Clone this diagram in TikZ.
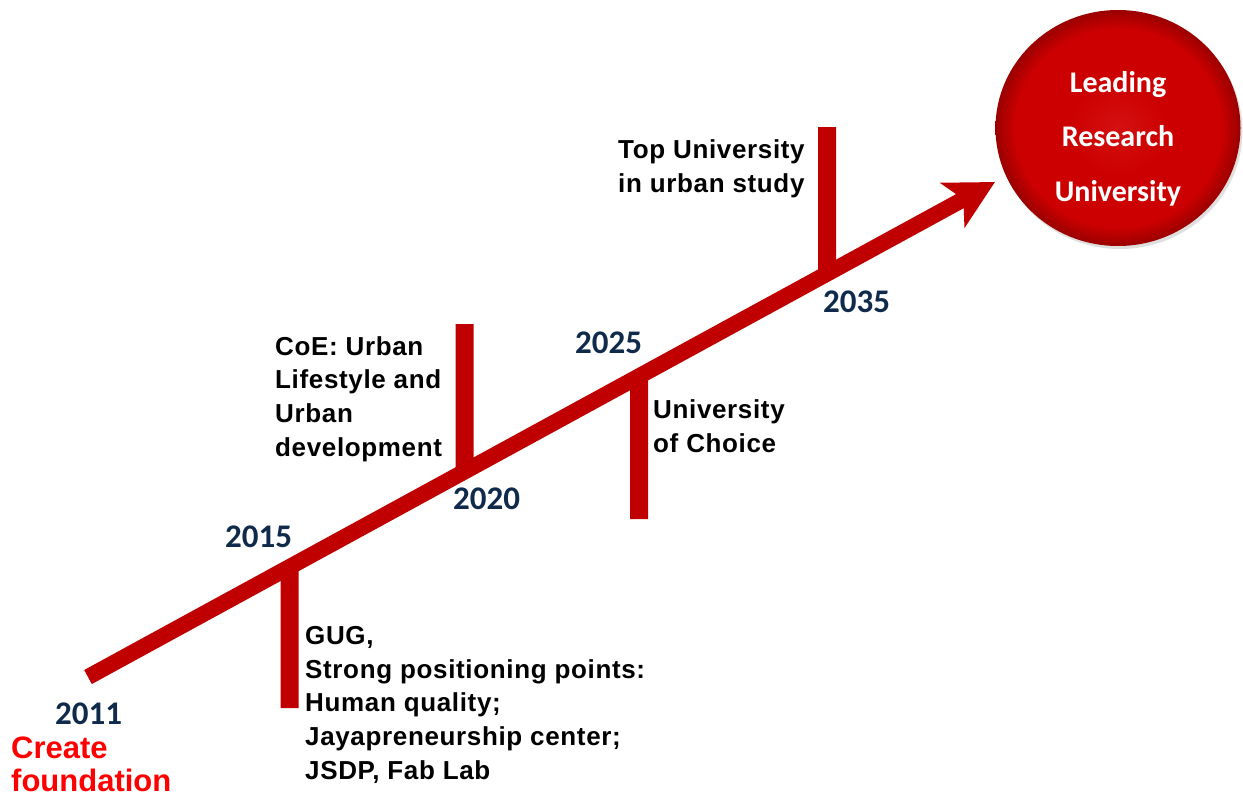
\documentclass[tikz,border=0pt]{standalone}
\usepackage{fontspec}
\setmainfont{Liberation Sans}
\newfontfamily\notefont[LetterSpace=2.5]{Liberation Sans}
\newfontfamily\calfont{Carlito}
\usetikzlibrary{arrows.meta,calc,shapes.geometric,shadows}
\definecolor{linered}{HTML}{C00000}
\definecolor{yearblue}{HTML}{0F2A4A}
\definecolor{ballred}{HTML}{CC0000}
\definecolor{ballrim}{HTML}{9A0000}
\definecolor{ballhi}{HTML}{D41010}
\definecolor{startred}{HTML}{FF0000}
\pgfdeclareradialshading{ballshade}{\pgfpoint{0bp}{0bp}}{color(0bp)=(ballhi); color(10bp)=(ballred); color(21bp)=(ballred); color(25bp)=(ballrim); color(50bp)=(ballrim)}
\begin{document}
\begin{tikzpicture}[x=1pt,y=-1pt,
  mainline/.style={line width=16pt, draw=linered, -{Stealth[length=48pt,width=50pt,inset=12pt]}},
  bar/.style={line width=18pt, draw=linered},
  year/.style={font=\calfont\bfseries\fontsize{33}{36}\selectfont, text=yearblue, anchor=base west, inner sep=0pt},
  note/.style={font=\notefont\bfseries\fontsize{26}{33.6}\selectfont, anchor=base west, align=left, inner sep=0pt},
  starttext/.style={font=\bfseries\fontsize{31}{32.5}\selectfont, text=startred, anchor=base west, align=left, inner sep=0pt},
  ball/.style={ellipse, minimum width=245pt, minimum height=236pt, inner sep=0pt, shading=ballshade, drop shadow={opacity=0.25, shadow xshift=2pt, shadow yshift=-3pt}},
  balltext/.style={font=\calfont\bfseries\fontsize{30}{54.5}\selectfont, text=white, anchor=base, align=center, inner sep=0pt}]
\useasboundingbox (0,0) rectangle (1243,798);

% main timeline
\coordinate (start) at (88,677);
\coordinate (tip) at (995,182);
\coordinate (b15) at ($(start)!0.2222!(tip)$);
\coordinate (b20) at ($(start)!0.4151!(tip)$);
\coordinate (b25) at ($(start)!0.6075!(tip)$);
\coordinate (b35) at ($(start)!0.8148!(tip)$);
\coordinate (e15) at (289.5,708);
\coordinate (e20) at (464.5,324);
\coordinate (e25) at (639,519);
\coordinate (e35) at (827,127);

\draw[bar] (b15) -- (e15);
\draw[bar] (b20) -- (e20);
\draw[bar] (b25) -- (e25);
\draw[bar] (b35) -- (e35);
\draw[mainline] (start) -- (tip);

% goal (multi-line nodes: base = baseline of last line)
\node[ball] (goal) at (1118,128) {};
\node[balltext] (goaltext) at (1118,201) {Leading\\Research\\University};

% years
\node[year] (y2011) at (55,724) {2011};
\node[year] (y2015) at (225,547) {2015};
\node[year] (y2020) at (453,509) {2020};
\node[year] (y2025) at (575,353) {2025};
\node[year] (y2035) at (823,312) {2035};

% notes
\node[starttext] (create) at (11,791) {Create\\foundation};
\node[note] (gug) at (305,779) {GUG,\\Strong positioning points:\\Human quality;\\Jayapreneurship center;\\JSDP, Fab Lab};
\node[note] (coe) at (275,456) {CoE: Urban\\Lifestyle and\\Urban\\development};
\node[note] (choice) at (653,452) {University\\of Choice};
\node[note] (topu) at (618,192) {Top University\\in urban study};
\end{tikzpicture}
\end{document}
